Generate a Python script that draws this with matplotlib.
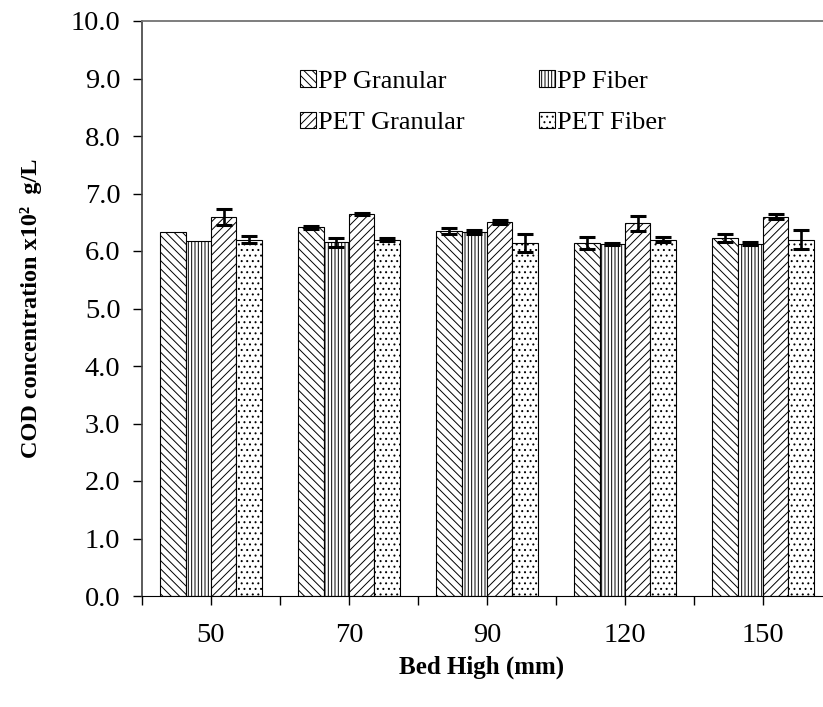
import numpy as np
import matplotlib
matplotlib.use("Agg")
import matplotlib.pyplot as plt

bed_high = ["50", "70", "90", "120", "150"]
series = ["PP Granular", "PP Fiber", "PET Granular", "PET Fiber"]

pp_granular = [6.33, 6.41, 6.35, 6.14, 6.23]
pp_fiber = [6.17, 6.15, 6.33, 6.12, 6.13]
pet_granular = [6.59, 6.64, 6.51, 6.48, 6.60]
pet_fiber = [6.20, 6.20, 6.14, 6.20, 6.20]

pp_granular_err = [0.0, 0.02, 0.055, 0.11, 0.065]
pp_fiber_err = [0.0, 0.075, 0.035, 0.02, 0.02]
pet_granular_err = [0.14, 0.02, 0.035, 0.13, 0.05]
pet_fiber_err = [0.055, 0.03, 0.16, 0.035, 0.165]

plt.rcParams["font.family"] = ["Liberation Serif", "DejaVu Serif"]
plt.rcParams["hatch.linewidth"] = 0.7


def plot_cod():
    fig = plt.figure(figsize=(8.23, 7.07), dpi=100)
    ax = fig.add_axes([142 / 823, (707 - 596) / 707, 690 / 823, 575 / 707])

    values = [pp_granular, pp_fiber, pet_granular, pet_fiber]
    errors = [pp_granular_err, pp_fiber_err, pet_granular_err, pet_fiber_err]
    hatches = ["\\\\\\\\", "|||||", "////", "..."]
    x = np.arange(len(bed_high))
    w = 0.183

    handles = []
    for i, (name, vals, err, h) in enumerate(zip(series, values, errors, hatches)):
        pos = x + (i - 1.5) * w
        bars = ax.bar(pos, vals, w, color="white", edgecolor="black",
                      linewidth=0.8, hatch=h, label=name, zorder=2)
        handles.append(bars)
        err = np.array(err)
        keep = err > 0
        ax.errorbar(pos[keep], np.array(vals)[keep], yerr=err[keep], fmt="none",
                    ecolor="black", elinewidth=1.9, capsize=5.5, capthick=2.2,
                    zorder=3)

    ax.set_xlim(-0.5, 4.5)
    ax.set_ylim(0, 10)
    ax.set_yticks(np.arange(0, 11, 1))
    ax.set_yticklabels([f"{v:.1f}" for v in np.arange(0, 11, 1)])
    ax.set_xticks(x)
    ax.set_xticklabels(bed_high)
    ax.set_xticks(np.arange(-0.5, 5, 1), minor=True)
    ax.tick_params(axis="both", which="both", direction="out", length=6.5,
                   width=1, labelsize=20.5)
    ax.tick_params(axis="x", which="major", pad=13)
    ax.tick_params(axis="y", pad=9)

    ax.spines["right"].set_visible(False)
    ax.spines["top"].set_color("0.45")
    ax.spines["top"].set_linewidth(1.3)
    ax.spines["left"].set_color("0.25")
    ax.spines["left"].set_linewidth(1.2)

    ax.set_ylabel("COD concentration x10\u00b2  g/L", fontsize=17.5,
                  fontweight="bold")
    ax.yaxis.set_label_coords(-0.145, 0.5)
    ax.set_xlabel("Bed High (mm)", fontsize=18, fontweight="bold")
    ax.xaxis.set_label_coords((482 - 142) / 690, -0.104)

    order = [handles[0], handles[2], handles[1], handles[3]]
    ax.legend(order, [h.get_label() for h in order], ncol=2, frameon=False,
              loc="upper left", bbox_to_anchor=(300 / 823, 1 - 70 / 707),
              bbox_transform=fig.transFigure, borderaxespad=0, borderpad=0,
              fontsize=19, handlelength=0.6, handleheight=0.6,
              handletextpad=0.1, columnspacing=2.8, labelspacing=0.72)

    fig.savefig("out.png", dpi=100)


plot_cod()
